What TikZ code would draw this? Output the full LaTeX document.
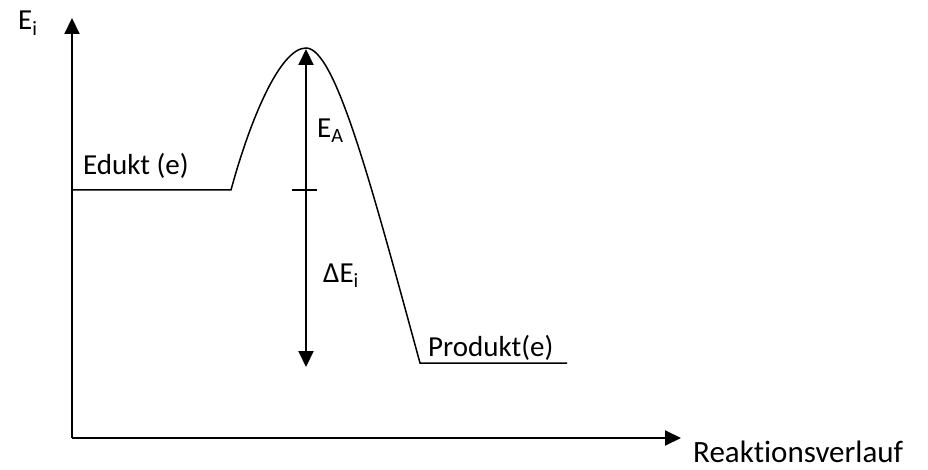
\documentclass[tikz,border=0pt]{standalone}
\usepackage{fontspec}
\setmainfont{Carlito}[Ligatures=CommonOff]
\usetikzlibrary{arrows.meta}
\begin{document}
\begin{tikzpicture}[x=1pt,y=-1pt,
  lbl/.style={inner sep=0pt,anchor=base west,font=\fontsize{29}{33}\selectfont},
  axis/.style={line width=2pt,-{Triangle[length=16pt,width=15pt]}},
  dbl/.style={line width=2pt,{Triangle[length=16pt,width=15pt]}-{Triangle[length=16pt,width=15pt]}},
  curve/.style={line width=1.5pt}]
\useasboundingbox (0,0) rectangle (928,470);
% coordinates
\coordinate (O) at (72,438);
\coordinate (ytop) at (72,18);
\coordinate (xend) at (681,438);
\coordinate (e0) at (72,190);
\coordinate (e1) at (231,190);
\coordinate (peak) at (306,48);
\coordinate (p0) at (420,363);
\coordinate (p1) at (567,363);
\coordinate (atop) at (306,49);
\coordinate (abot) at (306,367);
\coordinate (tl) at (292,190);
\coordinate (tr) at (317,190);
% axes
\draw[axis] (O) -- (ytop);
\draw[axis] (O) -- (xend);
% energy profile
\draw[curve] (e0) -- (e1) .. controls (250,120) and (280,48) .. (peak)
  .. controls (335,48) and (370,180) .. (p0) -- (p1);
% arrows
\draw[dbl] (atop) -- (abot);
\draw[line width=1.5pt] (tl) -- (tr);
% labels
\node[lbl] (Ei) at (18,30) {E\textsubscript{i}};
\node[lbl] (EA) at (317,138) {E\textsubscript{A}};
\node[lbl] (dE) at (323,282) {ΔE\textsubscript{i}};
\node[lbl] (ed) at (83,175) {Edukt (e)};
\node[lbl] (pr) at (428,356) {Produkt(e)};
\node[lbl,font=\fontsize{31}{36}\selectfont] (rv) at (693,462) {Reaktionsverlauf};
\end{tikzpicture}
\end{document}
